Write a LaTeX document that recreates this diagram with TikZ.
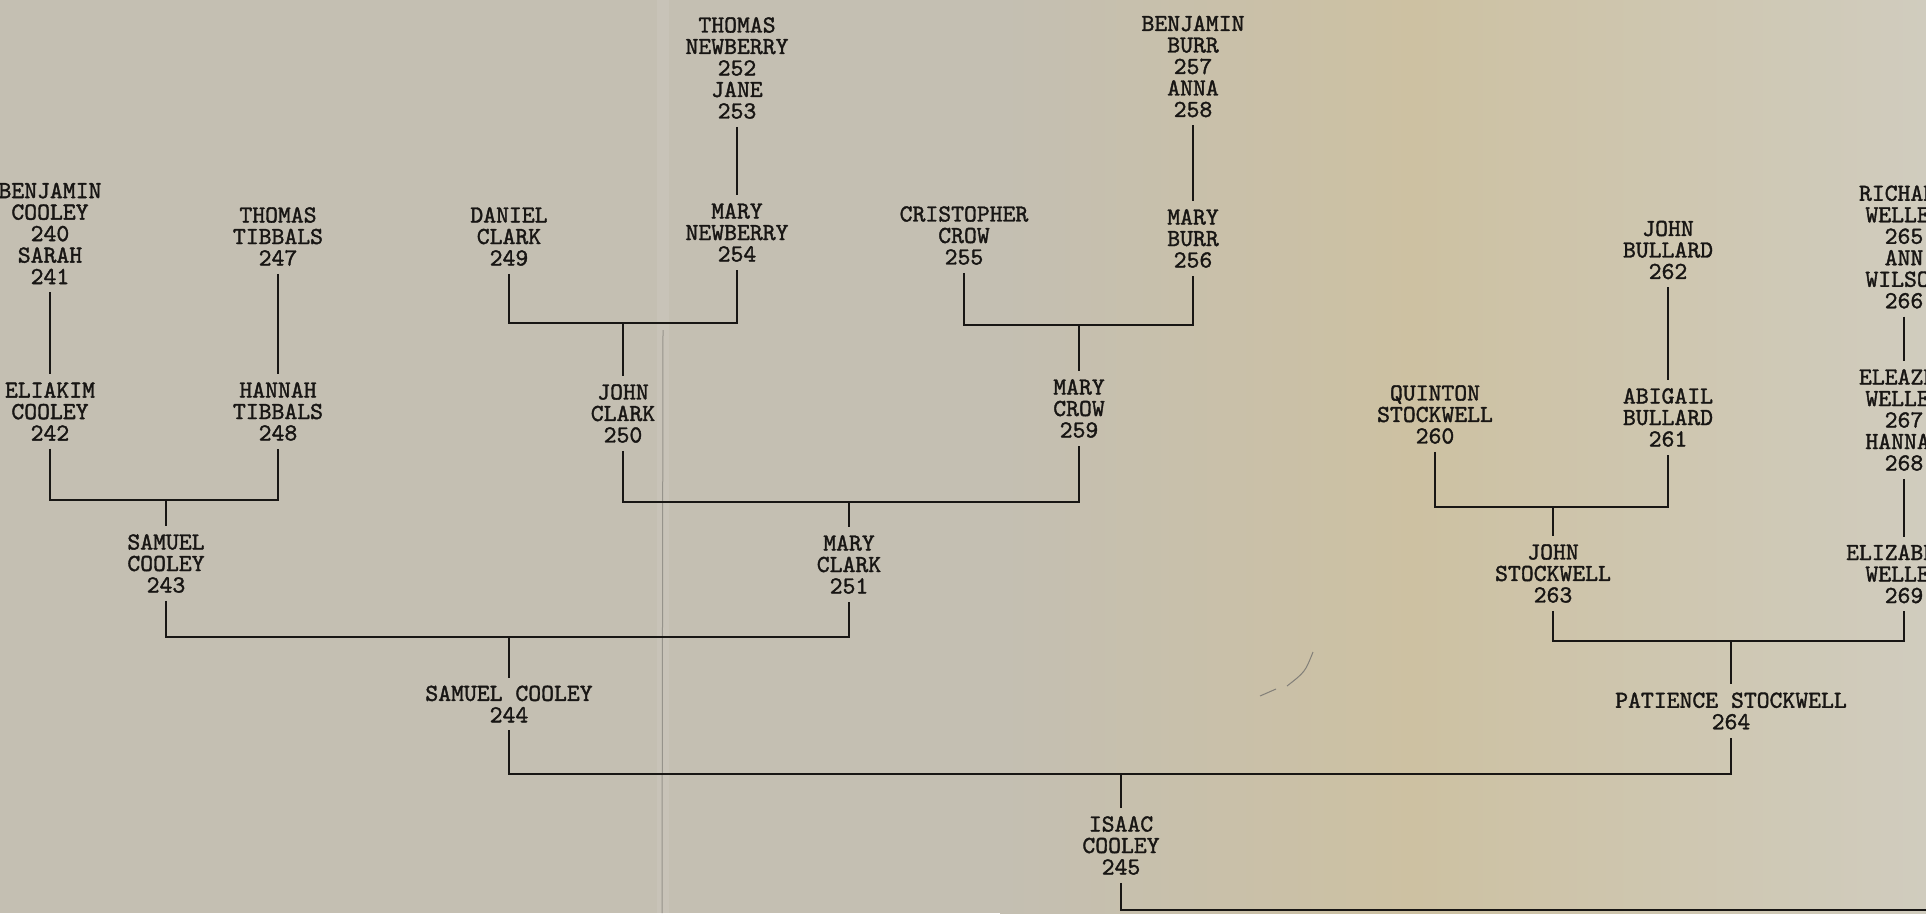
\documentclass[tikz,border=0pt]{standalone}
\usepackage{fontspec}
\newfontfamily\tw[FakeBold=1.5]{lmmono10-regular.otf}
\definecolor{ink}{RGB}{24,22,20}
\definecolor{bgA}{RGB}{196,191,178}
\definecolor{bgB}{RGB}{205,193,162}
\definecolor{bgC}{RGB}{208,204,190}
\definecolor{foldlight}{RGB}{206,202,192}
\definecolor{folddark}{RGB}{130,127,120}
\begin{document}
\begin{tikzpicture}[x=1pt,y=-1pt,
  person/.style={font=\tw\fontsize{24.5pt}{21.5pt}\selectfont, align=center,
    inner xsep=0pt, inner ysep=8pt, outer sep=0pt, text=ink},
  link/.style={draw=ink, line width=2.7pt, line join=miter}]
\useasboundingbox (0,0) rectangle (1926,913);
\clip (0,0) rectangle (1926,913);
% background paper
\fill[bgA] (0,0) rectangle (1001,913);
\shade[left color=bgA, right color=bgB] (1000,0) rectangle (1414,913);
\shade[left color=bgB, right color=bgC] (1413,0) rectangle (1926,913);
% fold of the sheet
\fill[foldlight, opacity=0.45] (657,0) rectangle (669,913);
\draw[folddark, line width=1pt, opacity=0.7] (663,330) -- (662,913);
% pencil mark
\draw[folddark, line width=1pt] (1313,652) .. controls (1305,672) .. (1287,686);
\draw[folddark, line width=1pt] (1260,696) -- (1276,689);

% people
\node[person] (b240) at (50,233.5) {BENJAMIN\\COOLEY\\240\\SARAH\\241};
\node[person] (t247) at (278,236.5) {THOMAS\\TIBBALS\\247};
\node[person] (e242) at (50,411.5) {ELIAKIM\\COOLEY\\242};
\node[person] (h248) at (278,411.5) {HANNAH\\TIBBALS\\248};
\node[person] (s243) at (166,563.5) {SAMUEL\\COOLEY\\243};
\node[person] (d249) at (509,236.5) {DANIEL\\CLARK\\249};
\node[person] (n252) at (737,68) {THOMAS\\NEWBERRY\\252\\JANE\\253};
\node[person] (m254) at (737,232.5) {MARY\\NEWBERRY\\254};
\node[person] (j250) at (623,413.5) {JOHN\\CLARK\\250};
\node[person] (c255) at (964,235.5) {CRISTOPHER\\CROW\\255};
\node[person] (bb257) at (1193,66.5) {BENJAMIN\\BURR\\257\\ANNA\\258};
\node[person] (mb256) at (1193,238.5) {MARY\\BURR\\256};
\node[person] (mc259) at (1079,408.5) {MARY\\CROW\\259};
\node[person] (mcl251) at (849,564.5) {MARY\\CLARK\\251};
\node[person] (sc244) at (509,704) {SAMUEL COOLEY\\244};
\node[person] (ic245) at (1121,845.5) {ISAAC\\COOLEY\\245};
\node[person] (qs260) at (1435,414.5) {QUINTON\\STOCKWELL\\260};
\node[person] (jb262) at (1668,250) {JOHN\\BULLARD\\262};
\node[person] (ab261) at (1668,417.5) {ABIGAIL\\BULLARD\\261};
\node[person] (js263) at (1553,573.5) {JOHN\\STOCKWELL\\263};
\node[person] (ps264) at (1731,711) {PATIENCE STOCKWELL\\264};
\node[person] (rw265) at (1904,247) {RICHARD\\WELLER\\265\\ANN\\WILSON\\266};
\node[person] (ew267) at (1904,420) {ELEAZER\\WELLER\\267\\HANNAH\\268};
\node[person] (ebw269) at (1904,574) {ELIZABETH\\WELLER\\269};

% junctions
\coordinate (k243) at (166,500);
\coordinate (k250) at (623,323);
\coordinate (k259) at (1079,325);
\coordinate (k251) at (849,502);
\coordinate (k244) at (509,637);
\coordinate (k263) at (1553,507);
\coordinate (k264) at (1731,641);
\coordinate (k245) at (1121,774);
\coordinate (tail) at (1960,910);

% connectors
\draw[link] (b240.south) -- (e242.north);
\draw[link] (t247.south) -- (h248.north);
\draw[link] (e242.south) |- (k243) -| (h248.south);
\draw[link] (k243) -- (s243.north);

\draw[link] (n252.south) -- (m254.north);
\draw[link] (d249.south) |- (k250) -| (m254.south);
\draw[link] (k250) -- (j250.north);

\draw[link] (bb257.south) -- (mb256.north);
\draw[link] (c255.south) |- (k259) -| (mb256.south);
\draw[link] (k259) -- (mc259.north);

\draw[link] (j250.south) |- (k251) -| (mc259.south);
\draw[link] (k251) -- (mcl251.north);

\draw[link] (s243.south) |- (k244) -| (mcl251.south);
\draw[link] (k244) -- (sc244.north);

\draw[link] (jb262.south) -- (ab261.north);
\draw[link] (qs260.south) |- (k263) -| (ab261.south);
\draw[link] (k263) -- (js263.north);

\draw[link] (rw265.south) -- (ew267.north);
\draw[link] (ew267.south) -- (ebw269.north);
\draw[link] (js263.south) |- (k264) -| (ebw269.south);
\draw[link] (k264) -- (ps264.north);

\draw[link] (sc244.south) |- (k245) -| (ps264.south);
\draw[link] (k245) -- (ic245.north);
\draw[link] (ic245.south) |- (tail);
\end{tikzpicture}
\end{document}
